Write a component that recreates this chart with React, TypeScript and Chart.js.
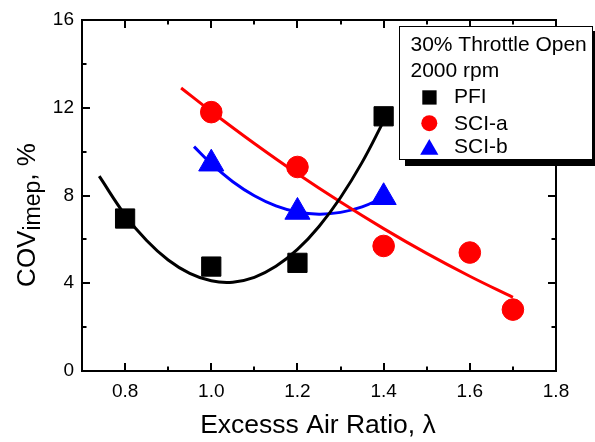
import React, { useEffect, useRef } from 'react';
import { Chart, registerables } from 'chart.js';

Chart.register(...registerables);

// measured data points
const pfiX = [0.8, 1.0, 1.2, 1.4];
const pfiY = [6.95, 4.76, 4.93, 11.61];
const sciaX = [1.0, 1.2, 1.4, 1.6, 1.7];
const sciaY = [11.8, 9.3, 5.7, 5.4, 2.8];
const scibX = [1.0, 1.2, 1.4];
const scibY = [9.45, 7.25, 7.92];

// fitted curves
const pfiFitX = [0.74, 0.8, 0.85, 0.9, 0.95, 1.0, 1.05, 1.1, 1.15, 1.2, 1.25, 1.3, 1.35, 1.4];
const pfiFitY = [8.88, 7.11, 5.95, 5.06, 4.45, 4.11, 4.05, 4.27, 4.77, 5.54, 6.59, 7.91, 9.51, 11.39];
const sciaFitX = [0.93, 1.0, 1.1, 1.2, 1.3, 1.4, 1.5, 1.6, 1.7];
const sciaFitY = [12.9, 11.83, 10.37, 8.99, 7.7, 6.49, 5.36, 4.32, 3.36];
const scibFitX = [0.96, 1.0, 1.05, 1.1, 1.15, 1.2, 1.25, 1.3, 1.35, 1.4];
const scibFitY = [10.23, 9.45, 8.63, 7.99, 7.53, 7.25, 7.15, 7.23, 7.48, 7.92];

// ticks
const xTickVals = [0.8, 1.0, 1.2, 1.4, 1.6, 1.8];
const xMinorVals = [0.9, 1.1, 1.3, 1.5, 1.7];
const xMajorMarks = [0.8, 1.0, 1.2, 1.4, 1.6];
const yTickVals = [0, 4, 8, 12, 16];
const yMinorVals = [2, 6, 10, 14];
const yMajorMarks = [4, 8, 12];

const legendTitle = ['30% Throttle Open', '2000 rpm'];
const seriesNames = ['PFI', 'SCI-a', 'SCI-b'];
const seriesColors = ['#000000', '#ff0000', '#0000ff'];
const xTitle = 'Excesss Air Ratio, \u03bb';

const FONT = '"Liberation Sans", Arial, Helvetica, sans-serif';

const toPts = (xs: number[], ys: number[]) => xs.map((x, i) => ({ x, y: ys[i] }));

const decorPlugin = {
  id: 'decor',
  afterDatasetsDraw(chart: any) {
    const { ctx, chartArea: a, scales } = chart;
    const xs = scales.x;
    const ys = scales.y;
    ctx.save();
    ctx.strokeStyle = '#000';
    ctx.lineWidth = 2;
    ctx.strokeRect(a.left, a.top, a.right - a.left, a.bottom - a.top);
    const MAJ = 8;
    const MIN = 4.5;
    ctx.beginPath();
    const xt = (v: number, len: number) => {
      const px = Math.round(xs.getPixelForValue(v));
      ctx.moveTo(px, a.bottom);
      ctx.lineTo(px, a.bottom - len);
      ctx.moveTo(px, a.top);
      ctx.lineTo(px, a.top + len);
    };
    const yt = (v: number, len: number) => {
      const py = Math.round(ys.getPixelForValue(v));
      ctx.moveTo(a.left, py);
      ctx.lineTo(a.left + len, py);
      ctx.moveTo(a.right, py);
      ctx.lineTo(a.right - len, py);
    };
    xMajorMarks.forEach((v) => xt(v, MAJ));
    xMinorVals.forEach((v) => xt(v, MIN));
    yMajorMarks.forEach((v) => yt(v, MAJ));
    yMinorVals.forEach((v) => yt(v, MIN));
    ctx.stroke();

    // x title
    ctx.fillStyle = '#000';
    ctx.font = `26.5px ${FONT}`;
    ctx.textAlign = 'center';
    ctx.textBaseline = 'alphabetic';
    ctx.fillText(xTitle, (a.left + a.right) / 2 - 1, 433);

    // y title with subscript
    ctx.save();
    ctx.translate(35, 215);
    ctx.rotate(-Math.PI / 2);
    ctx.textAlign = 'left';
    const f1 = `26px ${FONT}`;
    const f2 = `23px ${FONT}`;
    ctx.font = f1;
    const w1 = ctx.measureText('COV').width;
    const w3 = ctx.measureText(', %').width;
    ctx.font = f2;
    const w2 = ctx.measureText('imep').width;
    let sx = -(w1 + w2 + w3) / 2;
    ctx.font = f1;
    ctx.fillText('COV', sx, 0);
    sx += w1;
    ctx.font = f2;
    ctx.fillText('imep', sx, 5);
    sx += w2;
    ctx.font = f1;
    ctx.fillText(', %', sx, 0);
    ctx.restore();
    ctx.restore();
  },
  afterDraw(chart: any) {
    const { ctx } = chart;
    ctx.save();
    // shadow
    ctx.fillStyle = '#000';
    ctx.fillRect(405, 31, 195, 135);
    ctx.fillStyle = '#fff';
    ctx.fillRect(399, 26, 194, 134);
    ctx.strokeStyle = '#000';
    ctx.lineWidth = 1;
    ctx.strokeRect(399.5, 26.5, 193, 133);
    ctx.fillStyle = '#000';
    ctx.font = `21px ${FONT}`;
    ctx.textAlign = 'left';
    ctx.textBaseline = 'alphabetic';
    ctx.fillText(legendTitle[0], 410.5, 51);
    ctx.fillText(legendTitle[1], 410.5, 76.7);
    const baselines = [103.3, 130, 153.3];
    seriesNames.forEach((n, i) => {
      ctx.fillStyle = '#000';
      ctx.fillText(n, 454, baselines[i]);
    });
    // markers
    ctx.fillStyle = seriesColors[0];
    ctx.fillRect(422.3, 90.3, 14.3, 14.3);
    ctx.fillStyle = seriesColors[1];
    ctx.beginPath();
    ctx.arc(429.3, 123.2, 8, 0, Math.PI * 2);
    ctx.fill();
    ctx.fillStyle = seriesColors[2];
    ctx.beginPath();
    const r = 10.5;
    const cx = 429.3;
    const cy = 149.6;
    ctx.moveTo(cx, cy - r);
    ctx.lineTo(cx + r * Math.sin((2 * Math.PI) / 3), cy + r / 2);
    ctx.lineTo(cx - r * Math.sin((2 * Math.PI) / 3), cy + r / 2);
    ctx.closePath();
    ctx.fill();
    ctx.restore();
  },
};

export default function App() {
  const ref = useRef<HTMLCanvasElement | null>(null);
  useEffect(() => {
    if (!ref.current) return;
    Chart.defaults.font.family = FONT;
    Chart.defaults.color = '#000';
    const lineDs = (xs: number[], ys: number[], color: string) => ({
      type: 'line' as const,
      data: toPts(xs, ys),
      borderColor: color,
      backgroundColor: color,
      borderWidth: 3,
      pointRadius: 0,
      showLine: true,
      tension: 0.4,
      fill: false,
    });
    const chart = new Chart(ref.current, {
      type: 'scatter',
      data: {
        datasets: [
          {
            label: seriesNames[0],
            data: toPts(pfiX, pfiY),
            pointStyle: 'rect',
            pointRadius: 13.6,
            pointBorderWidth: 1,
            backgroundColor: seriesColors[0],
            borderColor: seriesColors[0],
          },
          {
            label: seriesNames[1],
            data: toPts(sciaX, sciaY),
            pointStyle: 'circle',
            pointRadius: 10.8,
            pointBorderWidth: 1,
            backgroundColor: seriesColors[1],
            borderColor: seriesColors[1],
          },
          {
            label: seriesNames[2],
            data: toPts(scibX, scibY),
            pointStyle: 'triangle',
            pointRadius: 14.5,
            pointBorderWidth: 1,
            backgroundColor: seriesColors[2],
            borderColor: seriesColors[2],
          },
          lineDs(pfiFitX, pfiFitY, seriesColors[0]),
          lineDs(sciaFitX, sciaFitY, seriesColors[1]),
          lineDs(scibFitX, scibFitY, seriesColors[2]),
        ] as any,
      },
      options: {
        animation: false,
        responsive: false,
        devicePixelRatio: 1,
        layout: { padding: { left: 0, right: 39, top: 20, bottom: 0 } },
        plugins: { legend: { display: false }, tooltip: { enabled: false } },
        scales: {
          x: {
            type: 'linear',
            position: 'bottom',
            min: 0.7,
            max: 1.8,
            grid: { display: false, drawTicks: false },
            border: { display: false },
            afterBuildTicks: (s: any) => {
              s.ticks = xTickVals.map((v) => ({ value: v }));
            },
            afterFit: (s: any) => {
              s.height = 71;
            },
            ticks: {
              padding: 9,
              font: { size: 19 },
              color: '#000',
              maxRotation: 0,
              autoSkip: false,
              callback: (v: any) => Number(v).toFixed(1),
            },
          },
          y: {
            type: 'linear',
            position: 'left',
            min: 0,
            max: 16,
            grid: { display: false, drawTicks: false },
            border: { display: false },
            afterBuildTicks: (s: any) => {
              s.ticks = yTickVals.map((v) => ({ value: v }));
            },
            afterFit: (s: any) => {
              s.width = 82;
            },
            ticks: {
              padding: 8,
              font: { size: 19 },
              color: '#000',
              autoSkip: false,
              callback: (v: any) => String(v),
            },
          },
        },
      } as any,
      plugins: [decorPlugin],
    });
    return () => chart.destroy();
  }, []);
  return (
    <div style={{ position: 'fixed', left: 0, top: 0, width: 595, height: 442, background: '#fff' }}>
      <canvas ref={ref} width={595} height={442} style={{ width: 595, height: 442 }} />
    </div>
  );
}
